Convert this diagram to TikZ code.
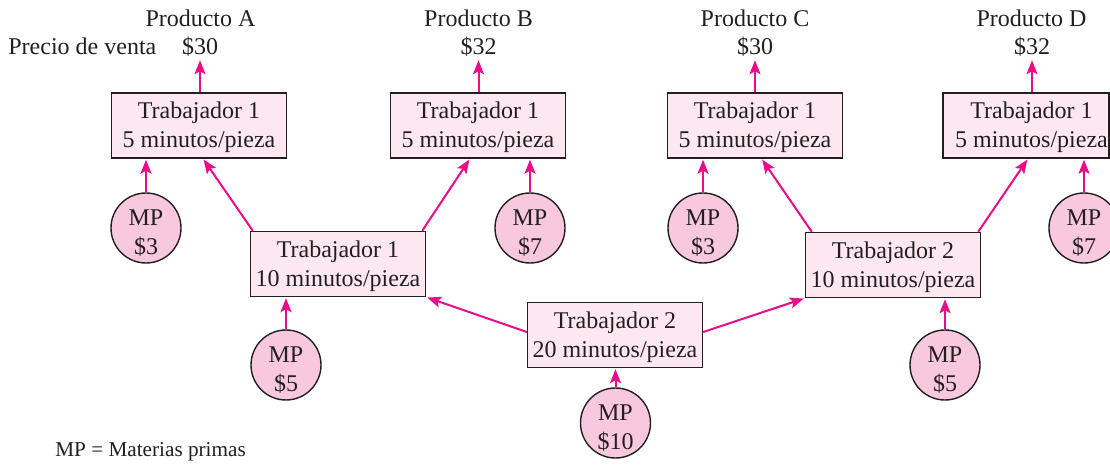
\documentclass[tikz,border=0pt]{standalone}
\usepackage{fontspec}
\setmainfont{Liberation Serif}
\usetikzlibrary{arrows.meta,positioning}
\definecolor{rosa}{RGB}{253,232,241}
\definecolor{rosaMP}{RGB}{247,200,222}
\definecolor{fucsia}{RGB}{234,12,139}
\definecolor{tinta}{RGB}{35,31,32}
% texto de las cajas y de los circulos
\newcommand{\trab}[2]{\rule{0pt}{10.3pt}Trabajador #1\\#2 minutos/pieza}
\newcommand{\mpcosto}[1]{\rule{0pt}{13pt}MP\\\$#1}
\tikzset{
	caja/.style={rectangle, draw=tinta, line width=0.7pt, fill=rosa, text=tinta,
		font=\fontsize{12pt}{14.5pt}\selectfont, minimum width=87.5pt,
		minimum height=32.5pt, align=center, inner sep=1pt},
	mp/.style={circle, draw=tinta, line width=0.7pt, fill=rosaMP, text=tinta,
		font=\fontsize{12pt}{14.5pt}\selectfont, minimum size=35pt,
		inner sep=0pt, align=center},
	etiqueta/.style={text=tinta, font=\fontsize{12pt}{14.5pt}\selectfont, inner sep=1pt},
	flecha/.style={draw=fucsia, line width=1pt, shorten >=0.5pt,
		-{Stealth[length=7pt,width=5.5pt,inset=1.5pt]}}
}

\begin{document}
\begin{tikzpicture}[x=0.5pt, y=-0.5pt]
			\useasboundingbox (0,0) rectangle (1110,465);
			
			% fila de arriba
			\node[caja] (t1) at (199,125.5) {\trab{1}{5}};
			\node[caja] (t2) at (478,125.5) {\trab{1}{5}};
			\node[caja] (t3) at (755,125.5) {\trab{1}{5}};
			\node[caja, minimum width=0pt, inner xsep=0.5pt] (t4) at (1026,125.5) {\rule{0pt}{10.3pt}\hspace*{5.5pt}Trabajador 1\\\hspace*{5.5pt}5 minutos/pieza};
			
			\node[caja] (m1) at (338,264) {\trab{1}{10}};
			\node[caja] (m2) at (893,265) {\trab{2}{10}};
			\node[caja] (base) at (615,335) {\trab{2}{20}};
			
			% materias primas
			\node[mp] (mp1) at (146,228) {\mpcosto{3}};
			\node[mp] (mp2) at (530,228) {\mpcosto{7}};
			\node[mp] (mp3) at (703,228) {\mpcosto{3}};
			\node[mp] (mp4) at (1084,228) {\mpcosto{7}};
			\node[mp] (mp5) at (286,365) {\mpcosto{5}};
			\node[mp] (mp6) at (945,365) {\mpcosto{5}};
			\node[mp] (mp7) at (615.5,423) {\mpcosto{10}};
			
			% productos y precios
			\node[etiqueta, anchor=base] (p1) at (200,55) {\$30};
			\node[etiqueta, anchor=base] (p2) at (478.5,55) {\$32};
			\node[etiqueta, anchor=base] (p3) at (755,55) {\$30};
			\node[etiqueta, anchor=base] (p4) at (1032,55) {\$32};
			\node[etiqueta, anchor=base] (n1) at (200.5,27) {Producto A};
			\node[etiqueta, anchor=base] (n2) at (478.5,27) {Producto B};
			\node[etiqueta, anchor=base] (n3) at (755,27) {Producto C};
			\node[etiqueta, anchor=base] (n4) at (1031.5,27) {Producto D};
			\node[etiqueta, anchor=base west] (pv) at (6,55) {Precio de venta};
			\node[etiqueta, anchor=base west, font=\fontsize{10.6pt}{12pt}\selectfont] (nota) at (53,456) {MP = Materias primas};
			
			\foreach \t/\p in {t1/p1, t2/p2, t3/p3, t4/p4}
				\draw[flecha] (\p.south |- \t.north) -- (\p.south);
			\foreach \c/\t in {mp1/t1, mp2/t2, mp3/t3, mp4/t4, mp5/m1, mp6/m2, mp7/base}
				\draw[flecha] (\c) -- (\c |- \t.south);
			
			\draw[flecha] ([xshift=1.5pt]m1.north west) -- ([xshift=2pt]t1.south);
			\draw[flecha] ([xshift=-2pt]m1.north east) -- ([xshift=-4pt]t2.south);
			\draw[flecha] ([xshift=3.5pt]m2.north west) -- ([xshift=3.3pt]t3.south);
			\draw[flecha] ([xshift=-1.5pt]m2.north east) -- ([xshift=1pt]t4.south);
			\draw[flecha] ([yshift=1.5pt]base.west) -- (m1.south east);
			\draw[flecha] ([yshift=1.5pt]base.east) -- (m2.south west);
		\end{tikzpicture}
\end{document}
